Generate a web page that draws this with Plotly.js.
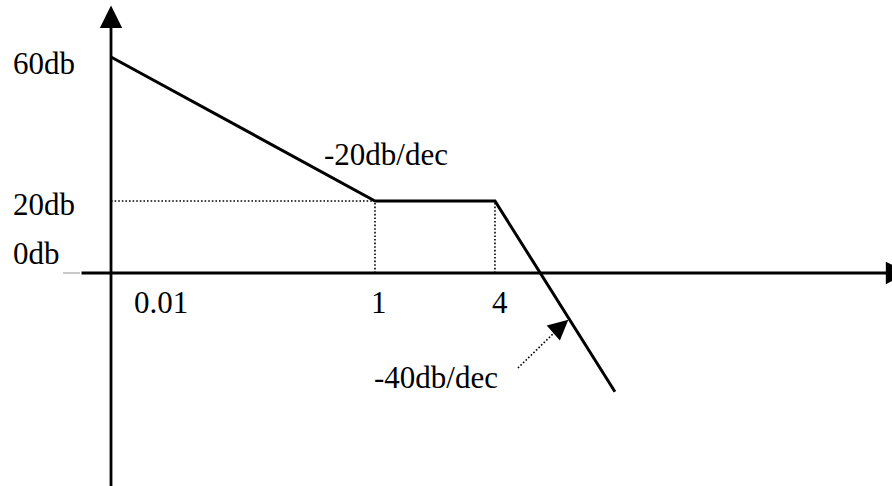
<!DOCTYPE html>
<html>
<head>
<meta charset="utf-8">
<script src="https://cdn.plot.ly/plotly-3.0.1.min.js"></script>
<style>
  html, body { margin:0; padding:0; background:#fff; }
  #grafica { width:892px; height:486px; }
</style>
</head>
<body>
<div id="grafica"></div>
<script>
// schematic position along the omega axis (sketch is not to scale)
const omegaPos = [0, 2, 2.909, 3.818];
const magDb = [60, 20, 20, -33];

const tickPos = [0.159, 2.034, 2.947];
const tickLabels = ['0.01', '1', '4'];

const dbLevels = [60, 20, 0];
const dbLabels = ['60db', '20db', '0db'];

const slopeLabels = ['-20db/dec', '-40db/dec'];

// dotted pointer towards the -40db/dec segment
const pointerX = [3.083, 3.36];
const pointerY = [-26.4, -16.5];

const fuente = 'Liberation Serif, Times New Roman, serif';
const dotStyle = { color:'black', width:1.6, dash:'1.6px,2px' };

const traces = [
    {
        x: [omegaPos[0], omegaPos[1]],
        y: [magDb[1], magDb[1]],
        mode:'lines',
        line: dotStyle
    },
    {
        x: [omegaPos[1], omegaPos[1]],
        y: [0, magDb[1]],
        mode:'lines',
        line: dotStyle
    },
    {
        x: [omegaPos[2], omegaPos[2]],
        y: [0, magDb[2]],
        mode:'lines',
        line: dotStyle
    },
    {
        x: pointerX,
        y: pointerY,
        mode:'lines',
        line: dotStyle
    },
    {
        x: omegaPos,
        y: magDb,
        mode:'lines',
        line:{ color:'black', width:3 }
    }
];

const annotations = [];

// axes with arrow heads
annotations.push({
    x:0, y:74.3, ax:0, ay:-62,
    xref:'x', yref:'y', axref:'x', ayref:'y',
    text:'', showarrow:true, arrowhead:2,
    arrowwidth:2.8, arrowsize:1.6, arrowcolor:'black', standoff:0
});
annotations.push({
    x:6.04, y:0, ax:-0.235, ay:0,
    xref:'x', yref:'y', axref:'x', ayref:'y',
    text:'', showarrow:true, arrowhead:2,
    arrowwidth:2.8, arrowsize:1.6, arrowcolor:'black', standoff:0
});
annotations.push({
    x:3.465, y:-13.0, ax:3.34, ay:-17.0,
    xref:'x', yref:'y', axref:'x', ayref:'y',
    text:'', showarrow:true, arrowhead:2,
    arrowwidth:1.6, arrowsize:2.5, arrowcolor:'black', standoff:0
});

const dbLabelY = [58.3, 18.9, 5.3];
dbLabels.forEach((t,i)=>{
    annotations.push({
        x:-0.76, y:dbLabelY[i], xref:'x', yref:'y',
        text:t, showarrow:false, xanchor:'left', yanchor:'middle',
        font:{ family:fuente, size:31, color:'black' }
    });
});

const tickAnchor = ['left', 'center', 'center'];
tickLabels.forEach((t,i)=>{
    annotations.push({
        x:tickPos[i], y:-8.3, xref:'x', yref:'y',
        text:t, showarrow:false, xanchor:tickAnchor[i], yanchor:'middle',
        font:{ family:fuente, size:31, color:'black' }
    });
});

annotations.push({
    x:1.6, y:32.8, xref:'x', yref:'y',
    text:slopeLabels[0], showarrow:false, xanchor:'left', yanchor:'middle',
    font:{ family:fuente, size:31, color:'black' }
});
annotations.push({
    x:1.98, y:-29.0, xref:'x', yref:'y',
    text:slopeLabels[1], showarrow:false, xanchor:'left', yanchor:'middle',
    font:{ family:fuente, size:31, color:'black' }
});

const layout = {
    width:892,
    height:486,
    margin:{ l:0, r:0, t:0, b:0 },
    paper_bgcolor:'white',
    plot_bgcolor:'white',
    showlegend:false,
    xaxis:{ range:[-0.841, 5.917], visible:false, fixedrange:true },
    yaxis:{ range:[-59.17, 75.83], visible:false, fixedrange:true },
    shapes:[
        {
            type:'line', xref:'x', yref:'y',
            x0:-0.364, x1:-0.235, y0:0, y1:0,
            line:{ color:'#c8c8c8', width:2 }
        }
    ],
    annotations: annotations
};

Plotly.newPlot('grafica', traces, layout, { displayModeBar:false, staticPlot:true });
</script>
</body>
</html>
